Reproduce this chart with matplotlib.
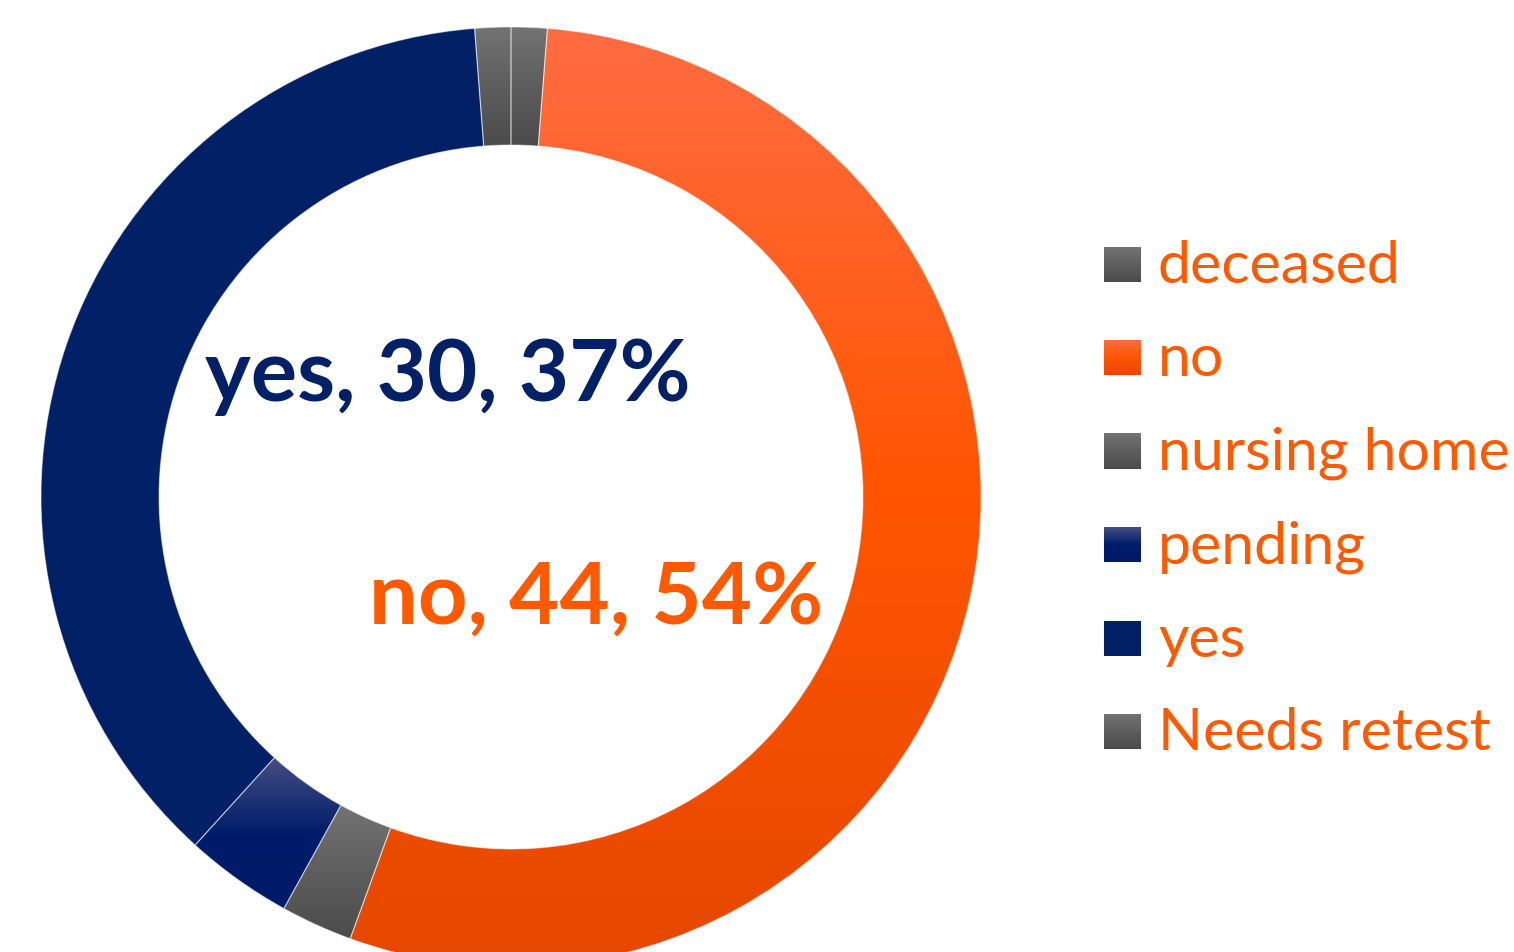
import numpy as np
import matplotlib
matplotlib.use('Agg')
import matplotlib.pyplot as plt
from matplotlib.colors import to_rgb

# 결과 분류별 인원 수 (12시 방향부터 시계방향)
labels = ['deceased', 'no', 'nursing home', 'pending', 'yes', 'Needs retest']
counts = [1, 44, 2, 3, 30, 1]
# 데이터 레이블을 표시할 항목
shown = ['yes', 'no']

# 항목별 그라데이션 (위, 가운데, 아래)
grad = {
    'deceased':     ['#737373', '#5e5e5e', '#4b4b4b'],
    'no':           ['#ff6c42', '#ff5500', '#e54800'],
    'nursing home': ['#737373', '#5e5e5e', '#4b4b4b'],
    'pending':      ['#434e82', '#001c6a', '#001a66'],
    'yes':          ['#022066', '#022066', '#022066'],
    'Needs retest': ['#737373', '#5e5e5e', '#4b4b4b'],
}
text_orange = '#ff5a00'
navy = '#022066'

plt.rcParams['font.family'] = ['Lato', 'DejaVu Sans']

W, H = 1514, 952
fig = plt.figure(figsize=(W / 100, H / 100), dpi=100)
ax = fig.add_axes([0, 0, 1, 1])

cx, cy, R = 511, H - 497, 470
wedges, _ = ax.pie(counts, radius=R, center=(cx, cy), startangle=90,
                   counterclock=False, wedgeprops=dict(width=118))


def ramp(stops, n=256):
    cols = np.array([to_rgb(c) for c in stops])
    t = np.linspace(0, 1, n)
    pos = np.linspace(0, 1, len(stops))
    out = np.stack([np.interp(t, pos, cols[:, k]) for k in range(3)], axis=-1)
    return out[::-1].reshape(n, 1, 3)  # row 0 = bottom


for w, lab in zip(wedges, labels):
    ext = w.get_path().get_extents()
    img = ax.imshow(ramp(grad[lab]), extent=(ext.x0, ext.x1, ext.y0, ext.y1),
                    origin='lower', aspect='auto', interpolation='bilinear', zorder=1)
    img.set_clip_path(w)
    w.set_facecolor('none')
    w.set_edgecolor((1, 1, 1, 0.45))
    w.set_linewidth(0.8)
    w.set_zorder(2)

# 데이터 레이블: 항목, 값, 백분율
total = sum(counts)
label_pos = {'yes': (448, H - 377), 'no': (596, H - 599)}
label_col = {'yes': navy, 'no': text_orange}
for lab in shown:
    v = counts[labels.index(lab)]
    ax.text(*label_pos[lab], f'{lab}, {v}, {v / total * 100:.0f}%',
            color=label_col[lab], fontsize=62.5, fontweight='bold',
            ha='center', va='center', zorder=3)

# 범례
y0, step = H - 282, 93.4
for i, lab in enumerate(labels):
    yb = y0 - i * step
    ax.imshow(ramp(grad[lab]), extent=(1104, 1141, yb, yb + 35),
              origin='lower', aspect='auto', zorder=3)
    ax.text(1158, yb - 1, lab, color=text_orange, fontsize=42.5,
            ha='left', va='baseline', zorder=3)

ax.set_xlim(0, W)
ax.set_ylim(0, H)
ax.set_aspect('auto')
ax.axis('off')
fig.savefig('out.png', dpi=100)
